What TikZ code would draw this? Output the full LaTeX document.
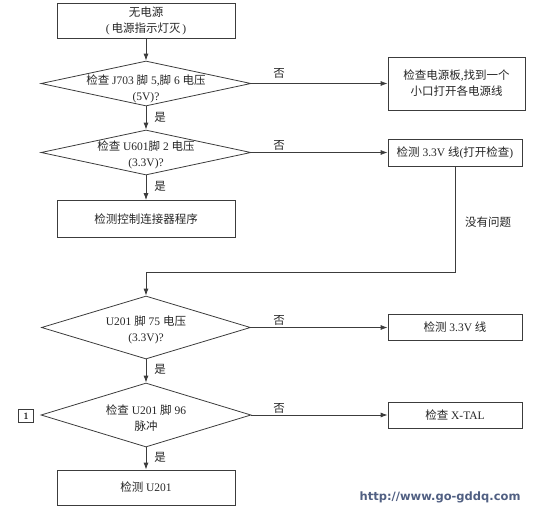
\documentclass[tikz,border=0pt]{standalone}
\usepackage{fontspec}
\setmainfont{Liberation Serif}
\newfontfamily\cjk{Noto Sans CJK SC}
\newfontfamily\wmfont{DejaVu Sans}
\usetikzlibrary{shapes.geometric,arrows.meta}
\newcommand\zh[1]{{\cjk #1}}
\definecolor{ln}{RGB}{60,60,60}
\definecolor{wm}{RGB}{80,95,130}
\begin{document}
\begin{tikzpicture}[x=1pt,y=-1pt,
  every node/.style={font=\fontsize{11.5}{16}\selectfont, text=black!85},
  box/.style={draw=ln, line width=0.8pt, align=center, inner sep=0pt},
  dia/.style={draw=ln, line width=0.8pt, shape=diamond, inner sep=0pt, aspect=4},
  txt/.style={align=center},
  arr/.style={draw=ln, line width=0.8pt, -{Latex[length=7pt,width=5pt]}},
  ln/.style={draw=ln, line width=0.8pt}]
\useasboundingbox (0,0) rectangle (533,511);
% left column
\node[box, minimum width=178pt, minimum height=35pt] (start) at (146,20.5) {\zh{无电源}\\(\,\zh{电源指示灯灭}\,)};
\node[dia, minimum width=210pt, minimum height=45pt] (d1) at (146,83.5) {};
\node[txt] at (146,89) {\zh{检查} J703 \zh{脚} 5,\zh{脚} 6 \zh{电压}\\(5V)?};
\node[dia, minimum width=210pt, minimum height=45pt] (d2) at (146,152.5) {};
\node[txt] at (146,155) {\zh{检查} U601\zh{脚} 2 \zh{电压}\\(3.3V)?};
\node[box, minimum width=178pt, minimum height=37pt] (b3) at (146,219) {\zh{检测控制连接器程序}};
\node[dia, minimum width=209pt, minimum height=63pt] (d3) at (146,327.5) {};
\node[txt] at (146,329.5) {U201 \zh{脚} 75 \zh{电压}\\(3.3V)?};
\node[dia, minimum width=210pt, minimum height=64pt] (d4) at (146,415) {};
\node[txt] at (146,418) {\zh{检查} U201 \zh{脚} 96\\\zh{脉冲}};
\node[box, minimum width=178pt, minimum height=35pt] (b5) at (146,487.5) {\zh{检测} U201};
\node[box, minimum width=15pt, minimum height=13pt, font=\fontsize{9}{10}\selectfont\sffamily\bfseries] (one) at (26,416) {1};
% right column
\node[box, minimum width=137pt, minimum height=53pt] (b2) at (456.5,83.5) {\zh{检查电源板},\zh{找到一个}\\\zh{小口打开各电源线}};
\node[box, minimum width=134pt, minimum height=27pt] (b4) at (455,152.5) {\zh{检测} 3.3V \zh{线}(\zh{打开检查})};
\node[box, minimum width=134pt, minimum height=26pt] (b6) at (455,327) {\zh{检测} 3.3V \zh{线}};
\node[box, minimum width=134pt, minimum height=26pt] (b7) at (455,415) {\zh{检查} X-TAL};
\coordinate (turn) at (146,272);
% connectors
\draw[arr] (start) -- (d1);
\draw[arr] (d1) -- (d2);
\draw[arr] (d2) -- (b3);
\draw[arr] (d3) -- (d4);
\draw[arr] (d4) -- (b5);
\draw[arr] (d1.east) -- (b2.west |- d1.east);
\draw[arr] (d2.east) -- (b4.west |- d2.east);
\draw[arr] (d3.east) -- (b6.west |- d3.east);
\draw[arr] (d4.east) -- (b7.west |- d4.east);
\draw[arr] (b4.south) |- (turn) -- (d3.north);
% labels
\node at (160,117) {\zh{是}};
\node at (160,186) {\zh{是}};
\node at (160,369) {\zh{是}};
\node at (160,457) {\zh{是}};
\node at (279,73) {\zh{否}};
\node at (279,145) {\zh{否}};
\node at (279,320) {\zh{否}};
\node at (279,408) {\zh{否}};
\node at (488,222) {\zh{没有问题}};
\node[font=\fontsize{11.5}{13}\selectfont\wmfont\bfseries, text=wm, anchor=east] (wmk) at (524,497) {http://www.go-gddq.com};
\end{tikzpicture}
\end{document}
